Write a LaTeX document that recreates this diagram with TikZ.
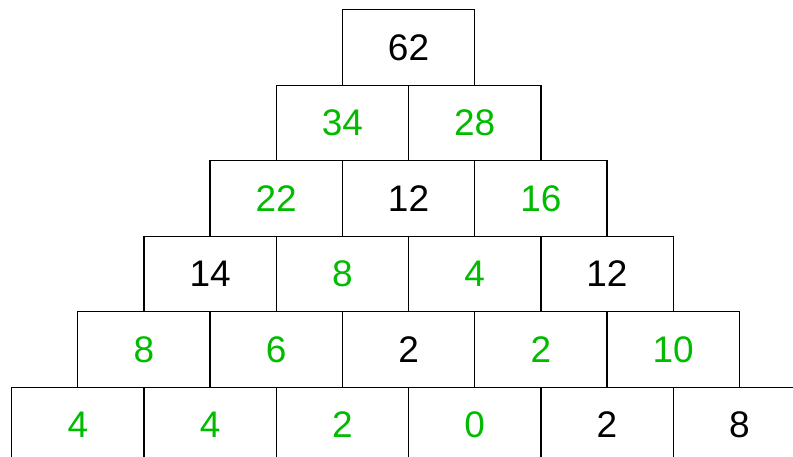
\documentclass[tikz,border=0pt]{standalone}
\usepackage{fontspec}
\setmainfont{Liberation Sans}
\definecolor{pgreen}{RGB}{0,187,0}
\begin{document}
\begin{tikzpicture}[x=1pt,y=-1pt,
  cell/.style={draw=black,line width=1.3pt,rectangle,minimum width=132.3pt,minimum height=75.5pt,inner sep=0pt,font=\fontsize{37}{37}\selectfont,anchor=north west},
  g/.style={text=pgreen},
  k/.style={text=black}]
\useasboundingbox (0,0) rectangle (793,456);
\clip (0,0) rectangle (793,456);
\def\W{132.3}\def\H{75.5}
% row, column, value, style
\foreach \r/\vals in {0/{62/k},1/{34/g,28/g},2/{22/g,12/k,16/g},3/{14/k,8/g,4/g,12/k},4/{8/g,6/g,2/k,2/g,10/g},5/{4/g,4/g,2/g,0/g,2/k,8/k}}{
  \foreach \v/\s [count=\c from 0] in \vals {
    \node[cell,\s] (r\r-\c) at ({11+(5-\r)*\W/2+\c*\W},{9+\r*\H}) {\v};
  }
}
\end{tikzpicture}
\end{document}
